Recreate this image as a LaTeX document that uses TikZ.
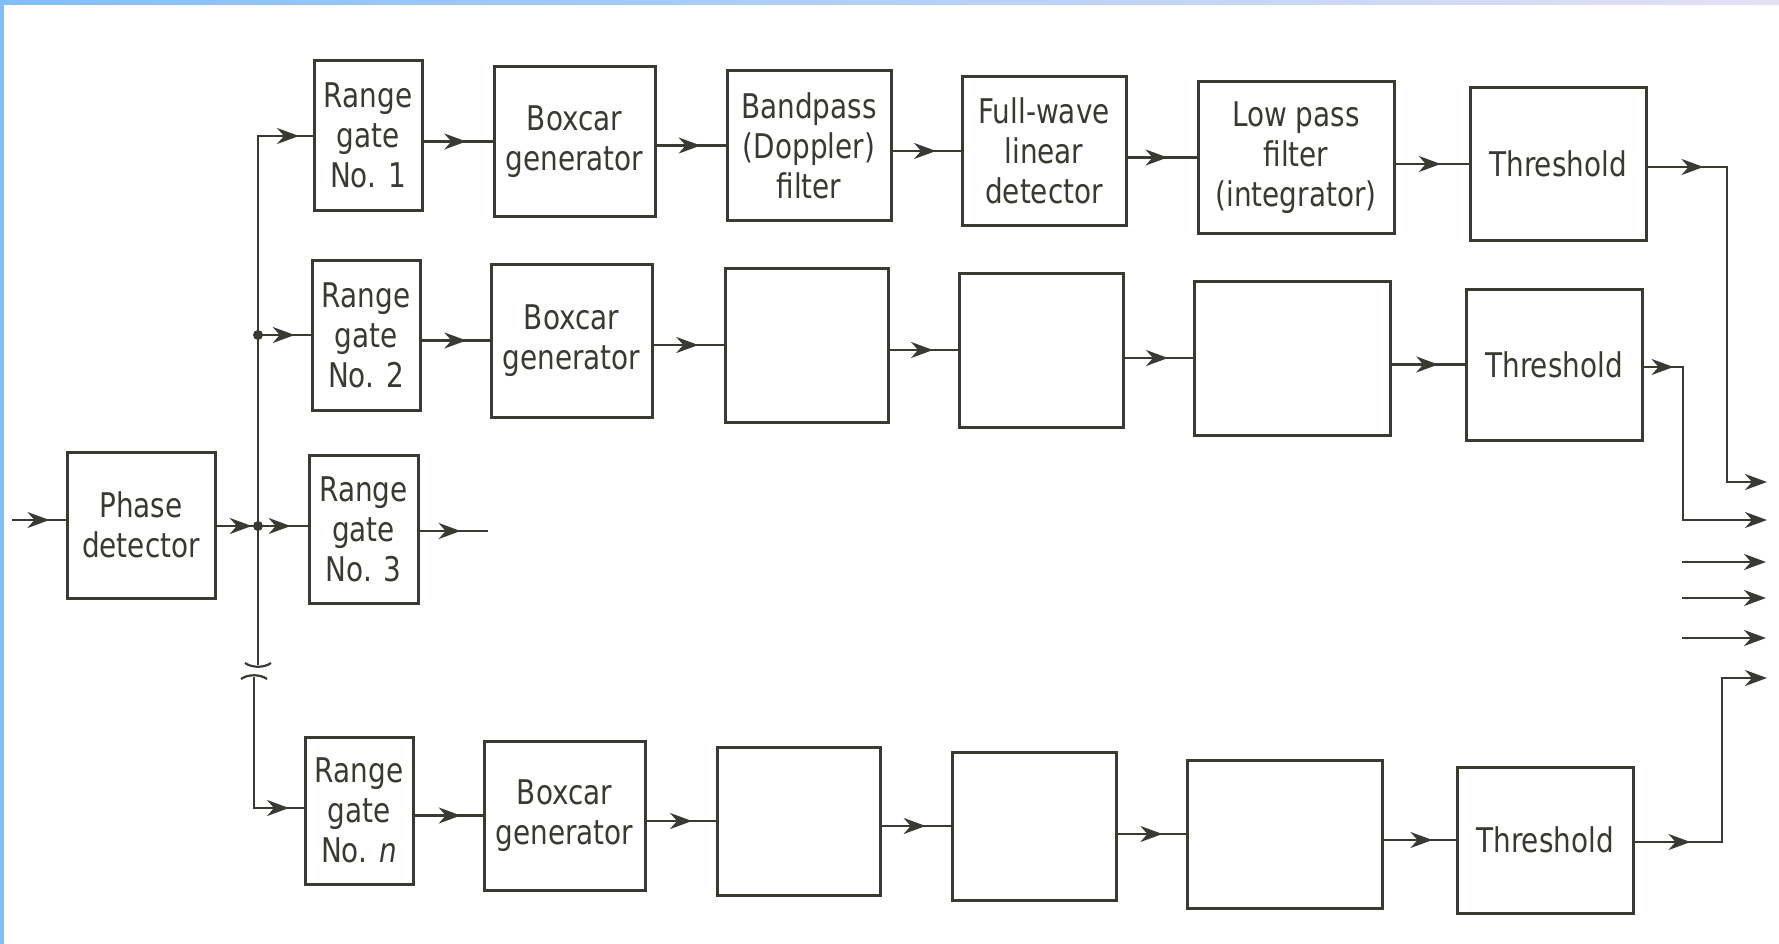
\documentclass[tikz,border=0pt]{standalone}
\usepackage{fontspec}
\setmainfont{DejaVu Sans}[FakeStretch=0.82]
\usetikzlibrary{arrows.meta,decorations.markings}
\definecolor{ink}{HTML}{3A3A32}
\definecolor{bandA}{HTML}{80BFFF}
\definecolor{bandB}{HTML}{E4E0F4}
\tikzset{
  box/.style={draw=ink, line width=3pt, inner sep=0pt, align=center,
    font=\fontsize{34}{40}\selectfont, text=ink},
  conn/.style={color=ink, line width=2.2pt},
  tipA/.tip={Stealth[length=22pt,width=16pt,inset=7pt]},
  midarrow/.style={conn, postaction={decorate},
    decoration={markings, mark=at position #1 with {\arrow{tipA}}}},
  midarrow/.default=0.62,
  endarrow/.style={conn, -tipA},
  jdot/.style={circle, fill=ink, inner sep=0pt, minimum size=10pt}
}
\begin{document}
\begin{tikzpicture}[x=1pt,y=-1pt]
\useasboundingbox (0,0) rectangle (1779,944);
\fill[white] (0,0) rectangle (1779,944);
\shade[left color=bandA, right color=bandB] (0,0) rectangle (1779,5);
\fill[bandA] (0,0) rectangle (4,944);

% row 1
\node[box, minimum width=108pt, minimum height=149pt] (rg1) at (368,135.5) {Range\\gate\\No. 1};
\node[box, minimum width=161pt, minimum height=149pt] (bc1) at (574.5,141.5) {Boxcar\\generator};
\node[box, minimum width=164pt, minimum height=149pt] (bp) at (809,145.5) {Bandpass\\(Doppler)\\filter};
\node[box, minimum width=164pt, minimum height=148pt] (fw) at (1044,151) {Full-wave\\linear\\detector};
\node[box, minimum width=196pt, minimum height=151pt] (lp) at (1296,157.5) {Low pass\\filter\\(integrator)};
\node[box, minimum width=176pt, minimum height=152pt] (th1) at (1558,164) {Threshold};

% row 2
\node[box, minimum width=108pt, minimum height=150pt] (rg2) at (366,335) {Range\\gate\\No. 2};
\node[box, minimum width=161pt, minimum height=153pt] (bc2) at (571.5,340.5) {Boxcar\\generator};
\node[box, minimum width=163pt, minimum height=154pt] (e2a) at (806.5,345) {};
\node[box, minimum width=164pt, minimum height=154pt] (e2b) at (1041,350) {};
\node[box, minimum width=196pt, minimum height=154pt] (e2c) at (1292,358) {};
\node[box, minimum width=176pt, minimum height=151pt] (th2) at (1554,364.5) {Threshold};

% row 3
\node[box, minimum width=148pt, minimum height=146pt] (pd) at (141,525) {Phase\\detector};
\node[box, minimum width=109pt, minimum height=148pt] (rg3) at (363.5,529) {Range\\gate\\No. 3};

% row n
\node[box, minimum width=108pt, minimum height=147pt] (rgn) at (359,810.5) {Range\\gate\\No. \textit{n}};
\node[box, minimum width=161pt, minimum height=149pt] (bcn) at (564.5,815.5) {Boxcar\\generator};
\node[box, minimum width=163pt, minimum height=148pt] (ena) at (798.5,821) {};
\node[box, minimum width=164pt, minimum height=148pt] (enb) at (1034,826) {};
\node[box, minimum width=195pt, minimum height=148pt] (enc) at (1284.5,834) {};
\node[box, minimum width=176pt, minimum height=146pt] (thn) at (1545,840) {Threshold};

% bus
\coordinate (bt) at (258,136);
\coordinate (j2) at (258,335);
\coordinate (j3) at (258,526);
\coordinate (bk1) at (258,665);
\coordinate (bk2) at (254,677);
\coordinate (bb) at (254,808);
\coordinate (in) at (12,520);
\coordinate (rg3o) at (488,531);

\draw[midarrow=570pt] (bk1) -- (bt) -- (bt -| rg1.west);
\draw[midarrow=0.7] (j2) -- (j2 -| rg2.west);
\draw[midarrow=0.85] (pd.east |- j3) -- (j3);
\draw[midarrow=0.66] (j3) -- (j3 -| rg3.west);
\node[jdot] at (j2) {};
\node[jdot] at (j3) {};
\draw[midarrow=0.7] (in) -- (in -| pd.west);
\draw[midarrow=0.6] (rg3.east |- rg3o) -- (rg3o);
\draw[midarrow=166pt] (bk2) -- (bb) -- (bb -| rgn.west);
% break symbol
\draw[conn] (245,663) .. controls (252,668) and (264,668) .. (271,663);
\draw[conn] (241,679) .. controls (248,674) and (260,674) .. (267,679);

% row 1 connectors
\draw[midarrow=0.62] (rg1.east |- bc1.west) -- (bc1.west);
\draw[midarrow=0.64] (bc1.east |- bp.west) -- (bp.west);
\draw[midarrow=0.64] (bp.east |- fw.west) -- (fw.west);
\draw[midarrow=0.58] (fw.east |- lp.west) -- (lp.west);
\draw[midarrow=0.62] (lp.east |- th1.west) -- (th1.west);
% row 2 connectors
\draw[midarrow=0.66] (rg2.east |- bc2.west) -- (bc2.west);
\draw[midarrow=0.64] (bc2.east |- e2a.west) -- (e2a.west);
\draw[midarrow=0.64] (e2a.east |- e2b.west) -- (e2b.west);
\draw[midarrow=0.64] (e2b.east |- e2c.west) -- (e2c.west);
\draw[midarrow=0.64] (e2c.east |- th2.west) -- (th2.west);
% row n connectors
\draw[midarrow=0.68] (rgn.east |- bcn.west) -- (bcn.west);
\draw[midarrow=0.66] (bcn.east |- ena.west) -- (ena.west);
\draw[midarrow=0.64] (ena.east |- enb.west) -- (enb.west);
\draw[midarrow=0.66] (enb.east |- enc.west) -- (enc.west);
\draw[midarrow=0.68] (enc.east |- thn.west) -- (thn.west);

% outputs
\coordinate (c1) at (1727,167);
\coordinate (o1) at (1767,482);
\coordinate (c2) at (1683,367);
\coordinate (o2) at (1767,520);
\coordinate (cn) at (1722,842);
\coordinate (on) at (1767,678);
\draw[midarrow=56pt, -tipA] (th1.east |- c1) -- (c1) -- (c1 |- o1) -- (o1);
\draw[midarrow=30pt, -tipA] (th2.east |- c2) -- (c2) -- (c2 |- o2) -- (o2);
\draw[midarrow=56pt, -tipA] (thn.east |- cn) -- (cn) -- (cn |- on) -- (on);
\coordinate (f1s) at (1682,562); \coordinate (f1e) at (1766,562);
\coordinate (f2s) at (1682,598); \coordinate (f2e) at (1766,598);
\coordinate (f3s) at (1682,638); \coordinate (f3e) at (1766,638);
\draw[endarrow] (f1s) -- (f1e);
\draw[endarrow] (f2s) -- (f2e);
\draw[endarrow] (f3s) -- (f3e);
\end{tikzpicture}
\end{document}
